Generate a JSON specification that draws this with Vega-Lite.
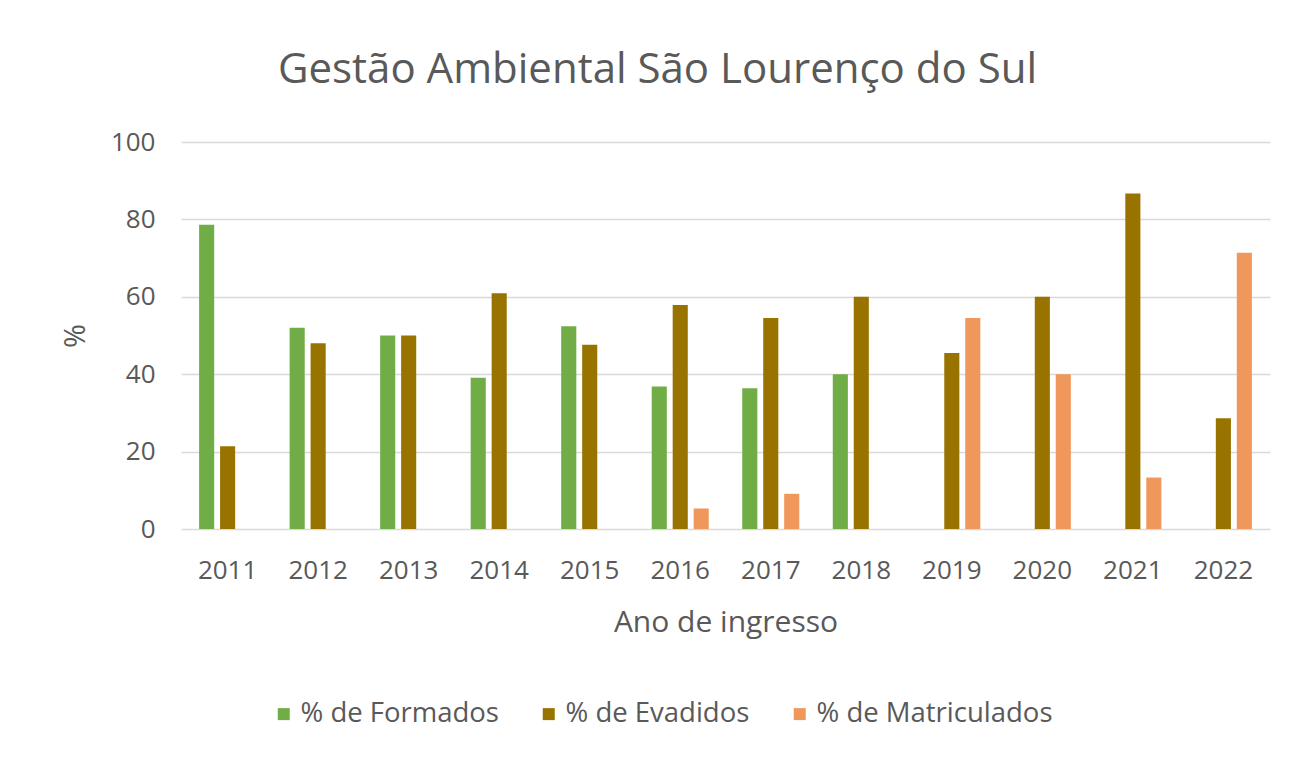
{
  "$schema": "https://vega.github.io/schema/vega-lite/v6.json",
  "width": 1089,
  "height": 387,
  "autosize": {"type": "none"},
  "padding": {"left": 181, "top": 142, "right": 25, "bottom": 229},
  "background": "white",
  "title": {
    "text": "Gestão Ambiental São Lourenço do Sul",
    "font": "Open Sans",
    "fontSize": 42,
    "fontWeight": "normal",
    "color": "#595959",
    "anchor": "middle",
    "frame": "group",
    "dx": -68,
    "baseline": "alphabetic",
    "offset": 4
  },
  "data": {
    "values": [
      {"ano": "2011", "serie": "% de Formados", "valor": 78.6},
      {"ano": "2011", "serie": "% de Evadidos", "valor": 21.4},
      {"ano": "2012", "serie": "% de Formados", "valor": 52.0},
      {"ano": "2012", "serie": "% de Evadidos", "valor": 48.0},
      {"ano": "2013", "serie": "% de Formados", "valor": 50.0},
      {"ano": "2013", "serie": "% de Evadidos", "valor": 50.0},
      {"ano": "2014", "serie": "% de Formados", "valor": 39.1},
      {"ano": "2014", "serie": "% de Evadidos", "valor": 60.9},
      {"ano": "2015", "serie": "% de Formados", "valor": 52.4},
      {"ano": "2015", "serie": "% de Evadidos", "valor": 47.6},
      {"ano": "2016", "serie": "% de Formados", "valor": 36.8},
      {"ano": "2016", "serie": "% de Evadidos", "valor": 57.9},
      {"ano": "2016", "serie": "% de Matriculados", "valor": 5.3},
      {"ano": "2017", "serie": "% de Formados", "valor": 36.4},
      {"ano": "2017", "serie": "% de Evadidos", "valor": 54.5},
      {"ano": "2017", "serie": "% de Matriculados", "valor": 9.1},
      {"ano": "2018", "serie": "% de Formados", "valor": 40.0},
      {"ano": "2018", "serie": "% de Evadidos", "valor": 60.0},
      {"ano": "2019", "serie": "% de Evadidos", "valor": 45.5},
      {"ano": "2019", "serie": "% de Matriculados", "valor": 54.5},
      {"ano": "2020", "serie": "% de Evadidos", "valor": 60.0},
      {"ano": "2020", "serie": "% de Matriculados", "valor": 40.0},
      {"ano": "2021", "serie": "% de Evadidos", "valor": 86.7},
      {"ano": "2021", "serie": "% de Matriculados", "valor": 13.3},
      {"ano": "2022", "serie": "% de Evadidos", "valor": 28.6},
      {"ano": "2022", "serie": "% de Matriculados", "valor": 71.4}
    ]
  },
  "mark": {"type": "bar"},
  "encoding": {
    "x": {
      "field": "ano",
      "type": "nominal",
      "scale": {"paddingInner": 0.37, "paddingOuter": 0.2},
      "axis": {
        "title": "Ano de ingresso",
        "labelAngle": 0,
        "domain": false,
        "ticks": false,
        "tickSize": 0,
        "labelPadding": 28,
        "titlePadding": 24,
        "titleFontSize": 30
      }
    },
    "xOffset": {
      "field": "serie",
      "type": "nominal",
      "scale": {
        "domain": ["% de Formados", "% de Evadidos", "% de Matriculados"],
        "paddingInner": 0.28,
        "paddingOuter": 0
      }
    },
    "y": {
      "field": "valor",
      "type": "quantitative",
      "scale": {"domain": [0, 100]},
      "axis": {
        "title": "%",
        "values": [0, 20, 40, 60, 80, 100],
        "domain": false,
        "ticks": false,
        "tickSize": 0,
        "labelPadding": 26,
        "titlePadding": 20,
        "grid": true
      }
    },
    "color": {
      "field": "serie",
      "type": "nominal",
      "scale": {
        "domain": ["% de Formados", "% de Evadidos", "% de Matriculados"],
        "range": ["#70AD47", "#997300", "#F0975C"]
      },
      "legend": {
        "title": null,
        "orient": "none",
        "direction": "horizontal",
        "legendX": 89,
        "legendY": 558,
        "symbolType": "square",
        "symbolSize": 144,
        "symbolStrokeWidth": 0,
        "symbolOpacity": 1,
        "labelOffset": 3,
        "columnPadding": 36,
        "padding": 0,
        "labelFontSize": 27.5
      }
    }
  },
  "config": {
    "font": "Open Sans",
    "view": {"stroke": null},
    "axis": {
      "labelFont": "Open Sans",
      "labelFontSize": 26,
      "labelColor": "#595959",
      "titleFont": "Open Sans",
      "titleFontSize": 29,
      "titleFontWeight": "normal",
      "titleColor": "#595959",
      "gridColor": "#d9d9d9",
      "gridWidth": 1.5
    },
    "legend": {
      "labelFont": "Open Sans",
      "labelFontSize": 26,
      "labelColor": "#595959",
      "labelLimit": 400
    }
  }
}
